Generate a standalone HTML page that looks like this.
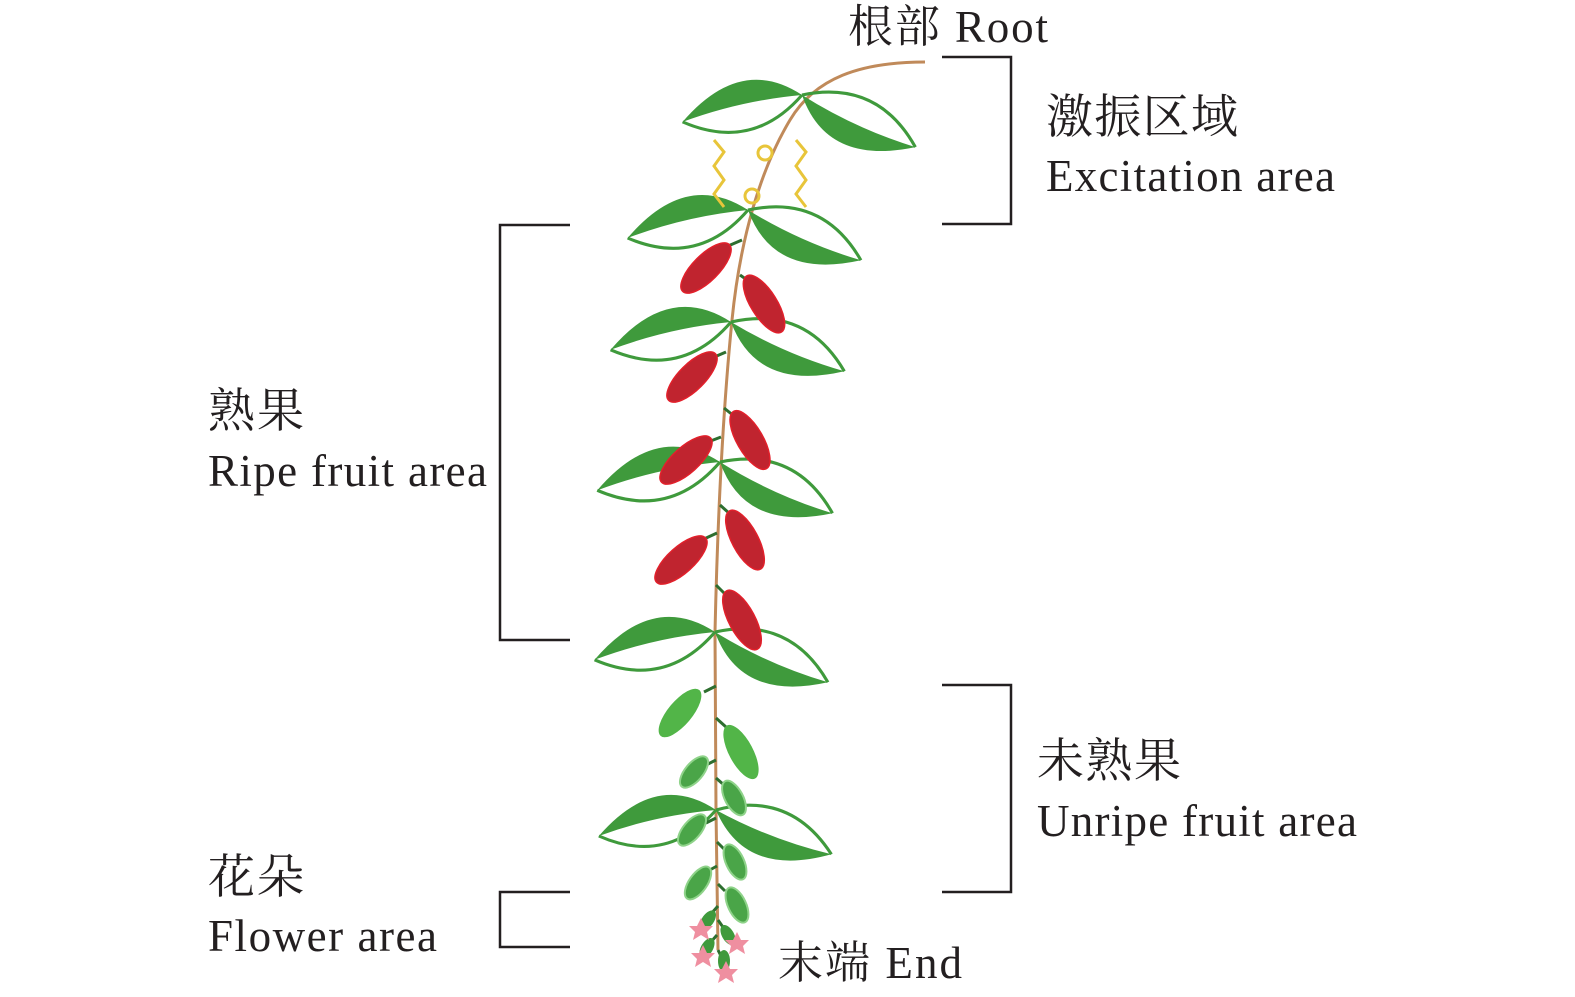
<!DOCTYPE html>
<html><head><meta charset="utf-8"><style>html,body{margin:0;padding:0;background:#fff}svg{display:block}
text{font-family:"Liberation Serif","Noto Serif CJK SC",serif;font-size:45px;fill:#231f20}
.c{font-size:47px}</style></head>
<body>
<svg width="1575" height="997" viewBox="0 0 1575 997" xmlns="http://www.w3.org/2000/svg">
<defs>
<g id="leaf">
<path d="M0,0 Q50,52 120,0 Q60,8 0,0Z" fill="#3f9a3c"/>
<path d="M0,0 Q60,-44 120,0" fill="none" stroke="#3f9a3c" stroke-width="3"/>
</g>
<g id="red">
<ellipse cx="0" cy="0" rx="33" ry="13" fill="#c0242f" stroke="#e2202b" stroke-width="1.5"/>
</g>
<g id="grn"><ellipse cx="0" cy="0" rx="30" ry="12" fill="#52b548"/></g>
<g id="lgr"><ellipse cx="0" cy="0" rx="19" ry="9" fill="#4aa548" stroke="#8fd38a" stroke-width="2"/></g>
<g id="flw">
<path d="M0,-12 L4,-4 12,-4 6,2 8,10 0,5 -8,10 -6,2 -12,-4 -4,-4Z" fill="#ef8fa0"/>
</g>
</defs>
<path d="M925,62 C860,62 815,78 790,120 C760,170 740,240 732,320 C724,400 718,500 715,632 L716,810 L718,950" fill="none" stroke="#c08a5a" stroke-width="3"/>
<use href="#leaf" transform="translate(802,95) rotate(167.3) scale(1.02)"/>
<use href="#leaf" transform="translate(802,95) rotate(24.7) scale(1.04)"/>
<use href="#leaf" transform="translate(748,210) rotate(166.9) scale(1.03)"/>
<use href="#leaf" transform="translate(748,210) rotate(24) scale(1.03)"/>
<use href="#leaf" transform="translate(731,322) rotate(167) scale(1.03)"/>
<use href="#leaf" transform="translate(731,322) rotate(23.5) scale(1.03)"/>
<use href="#leaf" transform="translate(720,462) rotate(167) scale(1.05)"/>
<use href="#leaf" transform="translate(720,462) rotate(24.5) scale(1.03)"/>
<use href="#leaf" transform="translate(715,632) rotate(167) scale(1.03)"/>
<use href="#leaf" transform="translate(715,632) rotate(24) scale(1.03)"/>
<use href="#leaf" transform="translate(716,810) rotate(167.5) scale(1.0)"/>
<use href="#leaf" transform="translate(716,810) rotate(21) scale(1.03)"/>
<g stroke="#2d6e2f" stroke-width="3" fill="none">
<path d="M742,240 L728,246"/><path d="M740,275 L750,282"/>
<path d="M726,352 L712,358"/><path d="M724,408 L734,416"/>
<path d="M721,437 L708,442"/><path d="M720,505 L730,514"/>
<path d="M717,533 L704,539"/><path d="M716,585 L726,595"/>
<path d="M716,686 L704,692"/><path d="M716,718 L726,727"/>
<path d="M716,760 L706,765"/><path d="M716,778 L724,785"/>
<path d="M716,818 L706,823"/><path d="M717,842 L724,849"/>
<path d="M717,866 L708,871"/><path d="M718,884 L725,891"/>
<path d="M718,906 L710,915"/><path d="M718,920 L725,930"/>
<path d="M717,935 L710,943"/><path d="M718,950 L722,958"/>
</g>
<use href="#red" transform="translate(706,268) rotate(-45)"/>
<use href="#red" transform="translate(764,304) rotate(58)"/>
<use href="#red" transform="translate(692,377) rotate(-45)"/>
<use href="#red" transform="translate(750,440) rotate(60)"/>
<use href="#red" transform="translate(686,460) rotate(-42)"/>
<use href="#red" transform="translate(745,540) rotate(62)"/>
<use href="#red" transform="translate(681,560) rotate(-42)"/>
<use href="#red" transform="translate(742,620) rotate(62)"/>
<use href="#grn" transform="translate(680,713) rotate(-50)"/>
<use href="#grn" transform="translate(741,752) rotate(62)"/>
<use href="#lgr" transform="translate(694,772) rotate(-50)"/>
<use href="#lgr" transform="translate(734,798) rotate(62)"/>
<use href="#lgr" transform="translate(692,830) rotate(-50)"/>
<use href="#lgr" transform="translate(735,862) rotate(65)"/>
<use href="#lgr" transform="translate(698,883) rotate(-55)"/>
<use href="#lgr" transform="translate(737,905) rotate(65)"/>
<g fill="#3f9a3c">
<ellipse cx="708" cy="920" rx="6" ry="11" transform="rotate(35 708 920)"/>
<ellipse cx="728" cy="935" rx="6" ry="11" transform="rotate(-30 728 935)"/>
<ellipse cx="707" cy="948" rx="6" ry="11" transform="rotate(30 707 948)"/>
<ellipse cx="724" cy="961" rx="6" ry="11"/>
</g>
<use href="#flw" transform="translate(701,930)"/>
<use href="#flw" transform="translate(737,944)"/>
<use href="#flw" transform="translate(703,957)"/>
<use href="#flw" transform="translate(726,973)"/>
<g fill="none" stroke="#e8c53a" stroke-width="3">
<path d="M714,140 L724,152 L714,166 L724,180 L714,194 L724,207"/>
<path d="M796,140 L806,152 L796,166 L806,180 L796,194 L806,207"/>
<circle cx="765" cy="153" r="7"/>
<circle cx="752" cy="196" r="7"/>
</g>
<g fill="none" stroke="#231f20" stroke-width="2.5">
<path d="M942,57 H1011 V224 H942"/>
<path d="M570,225 H500 V640 H570"/>
<path d="M942,685 H1011 V892 H942"/>
<path d="M570,892 H500 V947 H570"/>
</g>
<text x="848" y="42" textLength="200">根部 Root</text>
<text class="c" x="1046" y="133" textLength="192">激振区域</text>
<text x="1046" y="191" textLength="289">Excitation area</text>
<text class="c" x="208" y="427" textLength="96">熟果</text>
<text x="208" y="486" textLength="279">Ripe fruit area</text>
<text class="c" x="1037" y="777" textLength="144">未熟果</text>
<text x="1037" y="836" textLength="320">Unripe fruit area</text>
<text class="c" x="208" y="893" textLength="96">花朵</text>
<text x="208" y="951" textLength="229">Flower area</text>
<text x="778" y="978" textLength="184">末端 End</text>
</svg>
</body></html>
